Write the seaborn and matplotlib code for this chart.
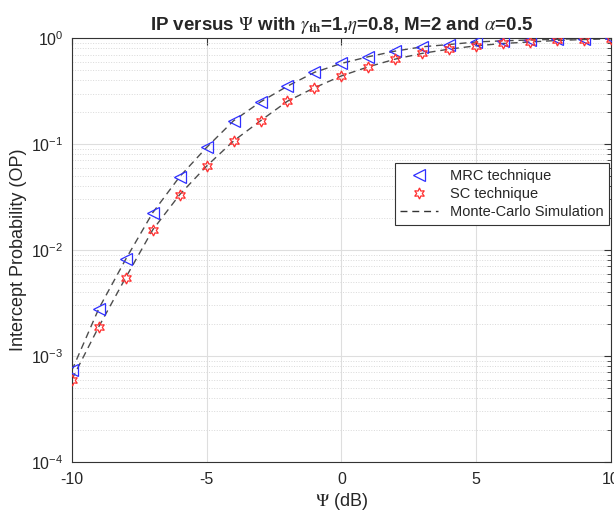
import numpy as np
import pandas as pd
import matplotlib
matplotlib.use("Agg")
import matplotlib.pyplot as plt
import seaborn as sns
from matplotlib.ticker import LogLocator, NullFormatter, FixedLocator

# values
psi_db = [-10, -9, -8, -7, -6, -5, -4, -3, -2, -1, 0, 1, 2, 3, 4, 5, 6, 7, 8, 9, 10]
ip_mrc = [7.3e-4, 2.8e-3, 8.2e-3, 0.0225, 0.0492, 0.093, 0.166, 0.25, 0.352, 0.475,
          0.577, 0.667, 0.754, 0.828, 0.87, 0.92, 0.943, 0.96, 0.975, 0.99, 1.0]
ip_sc = [6.0e-4, 1.89e-3, 5.5e-3, 0.0155, 0.0333, 0.062, 0.107, 0.166, 0.254, 0.34,
         0.44, 0.536, 0.634, 0.718, 0.787, 0.846, 0.89, 0.92, 0.95, 0.97, 0.985]

df = pd.DataFrame({"psi": psi_db, "mrc": ip_mrc, "sc": ip_sc})

sns.set_style("white")
plt.rcParams["font.family"] = ["Liberation Sans", "DejaVu Sans"]
plt.rcParams["mathtext.fontset"] = "stix"
plt.rcParams["axes.unicode_minus"] = False

fig = plt.figure(figsize=(6.14, 5.15), dpi=100)
ax = fig.add_axes([0.117, 0.103, 0.878, 0.823])

dash = (5, 3.5)
blue = "#2f2fff"
red = "#ff3030"

# Monte-Carlo simulation curves (dashed)
sns.lineplot(data=df, x="psi", y="mrc", ax=ax, color="0.3", linewidth=1.0,
             linestyle=(0, dash), label="_nolegend_", zorder=2)
sns.lineplot(data=df, x="psi", y="sc", ax=ax, color="0.3", linewidth=1.0,
             linestyle=(0, dash), label="_nolegend_", zorder=2)

# analytical points
sns.lineplot(data=df, x="psi", y="mrc", ax=ax, linestyle="", marker="<",
             markersize=9, markerfacecolor="none", markeredgecolor=blue,
             markeredgewidth=0.9, color=blue, label="_nolegend_", zorder=3)
sns.lineplot(data=df, x="psi", y="sc", ax=ax, linestyle="", marker=(6, 1, 0),
             markersize=8, markerfacecolor="none", markeredgecolor=red,
             markeredgewidth=0.9, color=red, label="_nolegend_", zorder=3)

ax.set_yscale("log")
ax.set_xlim(-10, 10)
ax.set_ylim(1e-4, 1)
ax.xaxis.set_major_locator(FixedLocator([-10, -5, 0, 5, 10]))
ax.yaxis.set_major_locator(LogLocator(base=10, numticks=10))
ax.yaxis.set_minor_locator(LogLocator(base=10, subs=np.arange(2, 10), numticks=20))
ax.yaxis.set_minor_formatter(NullFormatter())

ax.grid(True, which="major", color="0.87", linewidth=0.8, linestyle="-")
ax.grid(True, which="minor", axis="y", color="0.85", linewidth=0.7, linestyle=":")
ax.set_axisbelow(True)

for sp in ax.spines.values():
    sp.set_visible(True)
    sp.set_color("0.2")
    sp.set_linewidth(0.8)
ax.tick_params(which="both", direction="in", top=True, right=True, colors="0.2",
               labelcolor="0.15", labelsize=11.5)
ax.tick_params(which="major", length=5)
ax.tick_params(which="minor", length=3)
ax.tick_params(axis="x", which="major", pad=7)
ax.tick_params(axis="y", which="major", pad=6)

ax.set_xlabel(r"$\Psi$ (dB)", fontsize=13, color="0.15", labelpad=3)
ax.set_ylabel("Intercept Probability (OP)", fontsize=13, color="0.15", labelpad=3)
ax.set_title(r"IP versus $\Psi$ with $\gamma_{\mathbf{th}}$=1,$\eta$=0.8, M=2 and $\alpha$=0.5",
             fontsize=13.5, fontweight="bold", pad=6)

# legend proxies
h_mrc, = ax.plot([], [], linestyle="", marker="<", markersize=9, markerfacecolor="none",
                 markeredgecolor=blue, markeredgewidth=0.9)
h_sc, = ax.plot([], [], linestyle="", marker=(6, 1, 0), markersize=8, markerfacecolor="none",
                markeredgecolor=red, markeredgewidth=0.9)
h_mc, = ax.plot([], [], color="0.2", linewidth=1.0, linestyle=(0, dash))
leg = ax.legend([h_mrc, h_sc, h_mc], ["MRC technique", "SC technique", "Monte-Carlo Simulation"],
                loc="center right", bbox_to_anchor=(1.0, 0.632), fontsize=10.5,
                frameon=True, fancybox=False, edgecolor="0.2", framealpha=1,
                borderpad=0.4, labelspacing=0.3, handlelength=2.6, borderaxespad=0.1)
leg.get_frame().set_linewidth(0.8)

fig.savefig("out.png", dpi=100)
